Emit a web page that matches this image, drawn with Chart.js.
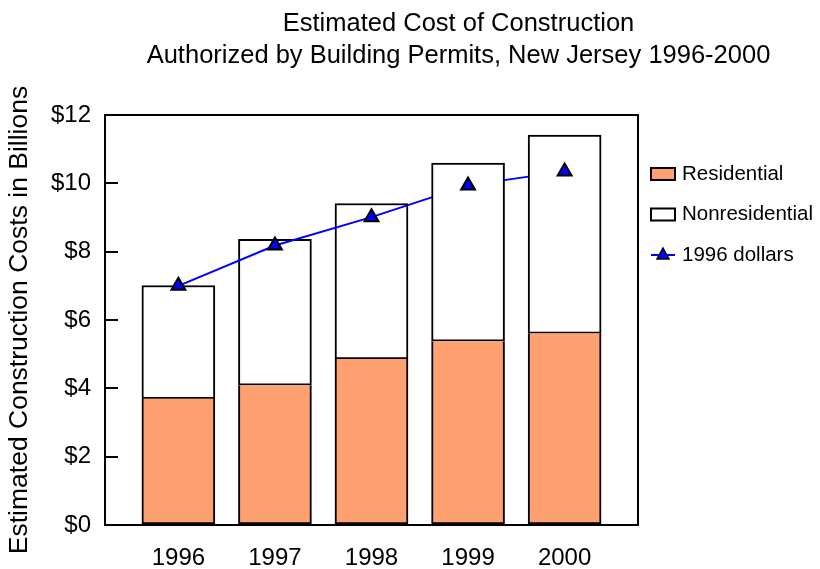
<!DOCTYPE html>
<html>

<head>
  <meta charset="utf-8" />
  <style>
    body { margin: 0; background: #fff; }
  </style>
</head>

<body>
  <canvas id="costChart" width="820" height="569"></canvas>

  <script src="https://cdn.jsdelivr.net/npm/chart.js"></script>
  <script>

    // values, billions of dollars
    var years = [1996, 1997, 1998, 1999, 2000];
    var residential = [3.70, 4.09, 4.86, 5.38, 5.61];
    var nonresidential = [3.31, 4.27, 4.55, 5.21, 5.80];
    var dollars1996 = [7.00, 8.18, 9.01, 9.94, 10.35];
    var yTicks = [0, 2, 4, 6, 8, 10, 12];

    var titleLines = ['Estimated Cost of Construction', 'Authorized by Building Permits, New Jersey 1996-2000'];
    var yTitle = 'Estimated Construction Costs in Billions';
    var legendLabels = ['Residential', 'Nonresidential', '1996 dollars'];

    var FONT = '"Liberation Sans", Arial, sans-serif';
    var ORANGE = 'rgb(255, 160, 112)';
    var BLUE = '#0000ff';

    // in the original the blue line runs over the first three bars but behind the last two
    var frontYears = [1999, 2000];

    function points(values, keep) {
      return years.map(function (yr, i) {
        return { x: yr, y: keep(yr) ? values[i] : null };
      });
    }
    function all() { return true; }
    function inFront(yr) { return frontYears.indexOf(yr) >= 0; }
    function behind(yr) { return frontYears.indexOf(yr) < 0; }

    var frame = {
      id: 'frame',
      afterDatasetsDraw: function (chart) {
        var a = chart.chartArea, ctx = chart.ctx;
        ctx.save();
        ctx.strokeStyle = '#000';
        ctx.lineWidth = 2;
        ctx.strokeRect(a.left, a.top, a.right - a.left, a.bottom - a.top);
        ctx.restore();
      }
    };

    var titleBlock = {
      id: 'titleBlock',
      afterDraw: function (chart) {
        var ctx = chart.ctx;
        var cx = (chart.chartArea.left + chart.width - 8) / 2;
        ctx.save();
        ctx.fillStyle = '#000';
        ctx.font = '25.5px ' + FONT;
        ctx.textAlign = 'center';
        ctx.textBaseline = 'alphabetic';
        ctx.fillText(titleLines[0], cx, 31);
        ctx.fillText(titleLines[1], cx, 63);
        ctx.restore();
      }
    };

    var sideLegend = {
      id: 'sideLegend',
      afterDraw: function (chart) {
        var ctx = chart.ctx, a = chart.chartArea;
        var lx = a.right + 13, ly = a.top + 59, gap = 40.5;
        ctx.save();
        ctx.lineWidth = 2;
        ctx.strokeStyle = '#000';

        ctx.fillStyle = ORANGE;
        ctx.fillRect(lx, ly - 6, 24, 12);
        ctx.strokeRect(lx, ly - 6, 24, 12);

        ctx.fillStyle = '#fff';
        ctx.fillRect(lx, ly + gap - 6, 24, 12);
        ctx.strokeRect(lx, ly + gap - 6, 24, 12);

        var y3 = ly + 2 * gap;
        ctx.strokeStyle = BLUE;
        ctx.lineWidth = 2;
        ctx.beginPath();
        ctx.moveTo(lx, y3);
        ctx.lineTo(lx + 24, y3);
        ctx.stroke();
        ctx.beginPath();
        ctx.moveTo(lx + 12, y3 - 7);
        ctx.lineTo(lx + 18, y3 + 4);
        ctx.lineTo(lx + 6, y3 + 4);
        ctx.closePath();
        ctx.fillStyle = BLUE;
        ctx.fill();
        ctx.strokeStyle = '#000';
        ctx.lineWidth = 1.5;
        ctx.stroke();

        ctx.fillStyle = '#000';
        ctx.font = '20.5px ' + FONT;
        ctx.textAlign = 'left';
        ctx.textBaseline = 'middle';
        for (var i = 0; i < legendLabels.length; i++) {
          ctx.fillText(legendLabels[i], lx + 31, ly + i * gap);
        }
        ctx.restore();
      }
    };

    var barStyle = {
      type: 'bar',
      borderColor: '#000',
      borderSkipped: false,
      barThickness: 73,
      stack: 'cost'
    };

    var datasets = [
      Object.assign({}, barStyle, {
        label: legendLabels[0],
        data: points(residential, all),
        backgroundColor: ORANGE,
        borderWidth: { top: 0, left: 2, right: 2, bottom: 2 },
        order: 0
      }),
      Object.assign({}, barStyle, {
        label: legendLabels[1],
        data: points(nonresidential, inFront),
        backgroundColor: '#fff',
        borderWidth: 2,
        order: 2
      }),
      {
        type: 'line',
        label: legendLabels[2],
        data: points(dollars1996, all),
        borderColor: BLUE,
        borderWidth: 2,
        pointRadius: 0,
        tension: 0,
        stack: 'line',
        order: 3
      },
      Object.assign({}, barStyle, {
        label: legendLabels[1],
        data: points(nonresidential, behind),
        backgroundColor: '#fff',
        borderWidth: 2,
        order: 4
      }),
      {
        type: 'line',
        label: legendLabels[2],
        data: points(dollars1996, all),
        showLine: false,
        pointStyle: 'triangle',
        pointRadius: 8,
        pointBackgroundColor: BLUE,
        pointBorderColor: '#000',
        pointBorderWidth: 2,
        stack: 'marks',
        order: 1
      }
    ];

    new Chart(document.getElementById('costChart'), {
      type: 'bar',
      data: { datasets: datasets },
      options: {
        responsive: false,
        animation: false,
        events: [],
        layout: { padding: { top: 115, right: 182, left: 0, bottom: 0 } },
        plugins: {
          legend: { display: false },
          title: { display: false },
          tooltip: { enabled: false }
        },
        scales: {
          x: {
            type: 'linear',
            min: 1995.24,
            max: 2000.76,
            offset: false,
            grid: { display: false, drawTicks: false, offset: false },
            border: { display: false },
            afterBuildTicks: function (axis) {
              axis.ticks = years.map(function (v) { return { value: v }; });
            },
            afterFit: function (axis) { axis.height = 44; },
            ticks: {
              color: '#000',
              font: { family: FONT, size: 24 },
              padding: 19,
              maxRotation: 0,
              autoSkip: false,
              callback: function (v) { return String(v); }
            }
          },
          y: {
            stacked: true,
            min: 0,
            max: 12,
            afterBuildTicks: function (axis) {
              axis.ticks = yTicks.map(function (v) { return { value: v }; });
            },
            afterFit: function (axis) { axis.width = 105; },
            grid: { drawOnChartArea: false, drawTicks: true, tickLength: -13, color: '#000', lineWidth: 2 },
            border: { display: false },
            ticks: {
              color: '#000',
              font: { family: FONT, size: 24 },
              padding: 27,
              callback: function (v) { return '$' + v; }
            },
            title: {
              display: true,
              text: yTitle,
              color: '#000',
              font: { family: FONT, size: 26.5 },
              padding: { top: 4, bottom: 0 }
            }
          }
        }
      },
      plugins: [frame, titleBlock, sideLegend]
    });
  </script>
</body>

</html>
